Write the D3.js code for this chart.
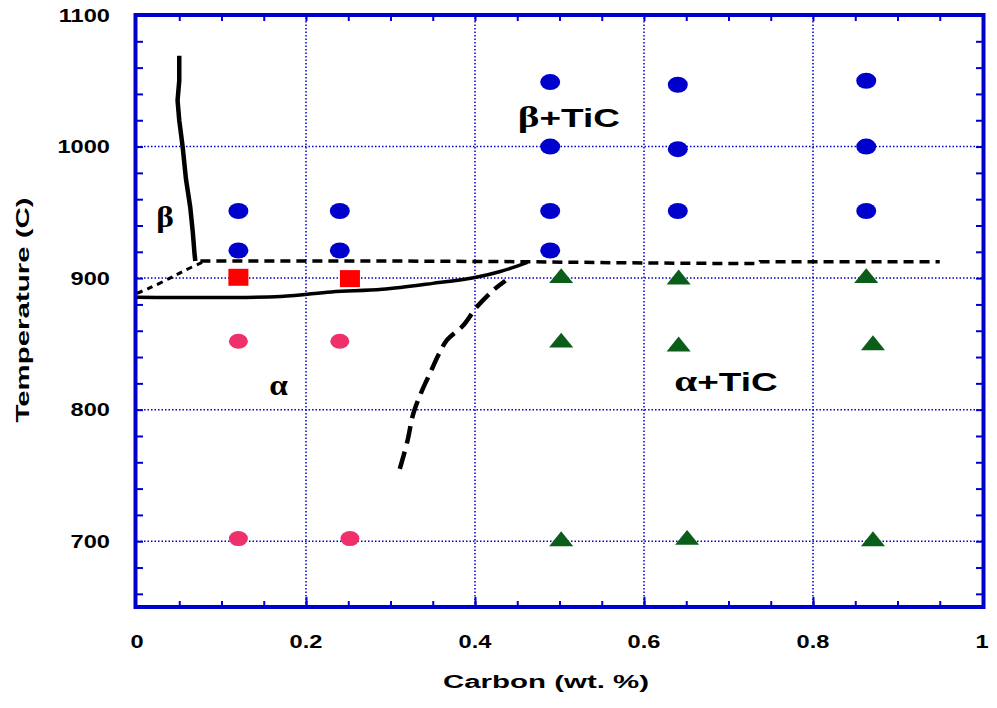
<!DOCTYPE html>
<html>
<head>
<meta charset="utf-8">
<script src="https://cdn.jsdelivr.net/npm/d3@7"></script>
<style>
  html, body { margin: 0; padding: 0; background: #fff; }
  svg text { font-family: "Liberation Sans", Arial, sans-serif; font-weight: bold; fill: #000; }
  .greek { font-family: "Liberation Serif", "DejaVu Serif", serif; }
</style>
</head>
<body>
<svg id="chart" width="997" height="708"></svg>
<script>
// Ti–C phase diagram: experimental heat-treatment points and phase boundaries

// Axis ticks
const xTicks = [0, 0.2, 0.4, 0.6, 0.8, 1];
const xTickLabels = ["0", "0.2", "0.4", "0.6", "0.8", "1"];
const yTicks = [700, 800, 900, 1000, 1100];
const yTickLabels = ["700", "800", "900", "1000", "1100"];

// Observed phases: [carbon wt.%, temperature °C]
const betaTiC = [
  [0.120, 951], [0.120, 921],
  [0.240, 951], [0.240, 921],
  [0.489, 1049], [0.489, 1000], [0.489, 951], [0.489, 921],
  [0.640, 1047], [0.640, 998], [0.640, 951],
  [0.863, 1050], [0.863, 1000], [0.863, 951]
];
const alphaBeta = [[0.120, 901], [0.252, 900]];
const alpha = [[0.120, 852], [0.240, 852], [0.120, 702], [0.252, 702]];
const alphaTiC = [
  [0.502, 900], [0.641, 899], [0.863, 900],
  [0.502, 851], [0.641, 848], [0.871, 849],
  [0.502, 700], [0.651, 701], [0.871, 700]
];

// Phase boundaries
const betaTransus = [[0.050, 1069], [0.050, 1050], [0.048, 1035], [0.050, 1020], [0.054, 1000],
  [0.058, 975], [0.063, 954], [0.066, 935], [0.068, 919], [0.069, 913]];
const betaLow = [[0.000, 888.5], [0.015, 892.5], [0.039, 900], [0.054, 905], [0.077, 912]];
const eutectoid = [[0.075, 913], [0.300, 913], [0.450, 912.5], [0.600, 911.5], [0.735, 911],
  [0.737, 912.4], [0.950, 912.5]];
const alphaTransus = [[0.000, 885.5], [0.170, 886], [0.230, 889.5], [0.290, 891.5], [0.350, 896],
  [0.400, 900.5], [0.430, 905], [0.462, 912]];
const carbonSolvus = [[0.311, 755], [0.320, 776], [0.327, 797], [0.337, 814], [0.347, 828],
  [0.357, 842], [0.367, 853], [0.386, 864], [0.402, 878], [0.422, 891], [0.436, 898]];

// Phase field labels: [x, y, greek, rest]
const fieldLabels = [
  [0.0331, 939, "β", ""],
  [0.511, 1015, "β", "+TiC"],
  [0.1675, 811, "α", ""],
  [0.697, 814, "α", "+TiC"]
];

const svg = d3.select("#chart");
const x = d3.scaleLinear().domain([0, 1]).range([137, 982]);
const y = d3.scaleLinear().domain([650, 1100]).range([607, 15]);
const blue = "#0000cc";

// Text drawn with a wide horizontal stretch, like the original plotting program's output
function wideText(parent, px, py, str, size, sx, anchor, rotate) {
  const gg = parent.append("g")
    .attr("transform", `translate(${px},${py})${rotate ? " rotate(-90)" : ""} scale(${sx},1)`);
  return gg.append("text").attr("text-anchor", anchor).attr("font-size", size).text(str);
}

// Dotted grid
const g = svg.append("g");
g.selectAll(".vgrid").data(xTicks.filter(d => d > 0 && d < 1)).join("line")
  .attr("x1", d => x(d)).attr("x2", d => x(d)).attr("y1", y(650)).attr("y2", y(1100))
  .attr("stroke", blue).attr("stroke-width", 1.5).attr("stroke-dasharray", "1.5,2");
g.selectAll(".hgrid").data(yTicks.filter(d => d < 1100)).join("line")
  .attr("x1", x(0)).attr("x2", x(1)).attr("y1", d => y(d)).attr("y2", d => y(d))
  .attr("stroke", blue).attr("stroke-width", 1.5).attr("stroke-dasharray", "1.5,2");

// Inward ticks on all four sides
const xMinor = d3.range(0.05, 1, 0.05);
const yMinor = d3.range(660, 1100, 20);
const axX = d3.axisBottom(x).tickValues(xMinor).tickSize(-6).tickFormat("");
const axXt = d3.axisTop(x).tickValues(xMinor).tickSize(-6).tickFormat("");
const axY = d3.axisLeft(y).tickValues(yMinor).tickSize(-6).tickFormat("");
const axYr = d3.axisRight(y).tickValues(yMinor).tickSize(-6).tickFormat("");
[[axX, `translate(0,${y(650)})`], [axXt, `translate(0,${y(1100)})`],
 [axY, `translate(${x(0)},0)`], [axYr, `translate(${x(1)},0)`]].forEach(([ax, t]) => {
  const a = svg.append("g").attr("transform", t).call(ax);
  a.select(".domain").remove();
  a.selectAll("line").attr("stroke", blue).attr("stroke-width", 2);
});
// Longer ticks at the major values along the bottom
svg.append("g").attr("transform", `translate(0,${y(650)})`)
  .call(d3.axisBottom(x).tickValues(xTicks.filter(d => d > 0 && d < 1)).tickSize(-10).tickFormat(""))
  .call(a => { a.select(".domain").remove(); a.selectAll("line").attr("stroke", blue).attr("stroke-width", 2); });

// Frame
svg.append("rect").attr("x", x(0) - 1.5).attr("y", y(1100)).attr("width", x(1) - x(0) + 3)
  .attr("height", y(650) - y(1100)).attr("fill", "none").attr("stroke", blue).attr("stroke-width", 4);

// Tick labels
const tl = svg.append("g");
xTicks.forEach((d, i) => wideText(tl, x(d), 648, xTickLabels[i], 17.5, 1.35, "middle"));
yTicks.forEach((d, i) => wideText(tl, 110, y(d) + 6.5, yTickLabels[i], 17.5, 1.35, "end"));

// Axis titles
wideText(svg, 546, 688, "Carbon (wt. %)", 19, 1.55, "middle");
wideText(svg, 29, 310, "Temperature (C)", 19, 1.55, "middle", true);

// Boundaries
const line = d3.line().x(d => x(d[0])).y(d => y(d[1]));
const curve = d3.line().x(d => x(d[0])).y(d => y(d[1])).curve(d3.curveCatmullRom);
svg.append("path").attr("d", line(betaTransus)).attr("fill", "none")
  .attr("stroke", "#000").attr("stroke-width", 4.5);
svg.append("path").attr("d", curve(betaLow)).attr("fill", "none")
  .attr("stroke", "#000").attr("stroke-width", 3).attr("stroke-dasharray", "6,5");
svg.append("path").attr("d", line(eutectoid)).attr("fill", "none")
  .attr("stroke", "#000").attr("stroke-width", 3.5).attr("stroke-dasharray", "10,6");
svg.append("path").attr("d", curve(alphaTransus)).attr("fill", "none")
  .attr("stroke", "#000").attr("stroke-width", 3.5);
svg.append("path").attr("d", curve(carbonSolvus)).attr("fill", "none")
  .attr("stroke", "#000").attr("stroke-width", 4.5).attr("stroke-dasharray", "18,8");

// Markers
svg.append("g").selectAll("ellipse").data(betaTiC).join("ellipse")
  .attr("cx", d => x(d[0])).attr("cy", d => y(d[1])).attr("rx", 10).attr("ry", 8).attr("fill", "#0000cc");
svg.append("g").selectAll("ellipse").data(alpha).join("ellipse")
  .attr("cx", d => x(d[0])).attr("cy", d => y(d[1])).attr("rx", 9.5).attr("ry", 7.5).attr("fill", "#f0306a");
svg.append("g").selectAll("rect").data(alphaBeta).join("rect")
  .attr("x", d => x(d[0]) - 10).attr("y", d => y(d[1]) - 8).attr("width", 20).attr("height", 17).attr("fill", "#ff0000");
const tri = d3.symbol().type(d3.symbolTriangle).size(200);
svg.append("g").selectAll("path").data(alphaTiC).join("path")
  .attr("transform", d => `translate(${x(d[0])},${y(d[1])}) scale(1.12,0.8)`)
  .attr("d", tri).attr("fill", "#0b5e1a");

// Phase field labels
const fl = svg.append("g");
fieldLabels.forEach(d => {
  const t = wideText(fl, x(d[0]), y(d[1]), "", 26, d[3] ? 1.42 : 1.15, "middle");
  t.append("tspan").attr("class", "greek").attr("font-size", 29).text(d[2]);
  t.append("tspan").text(d[3]);
});
</script>
</body>
</html>
